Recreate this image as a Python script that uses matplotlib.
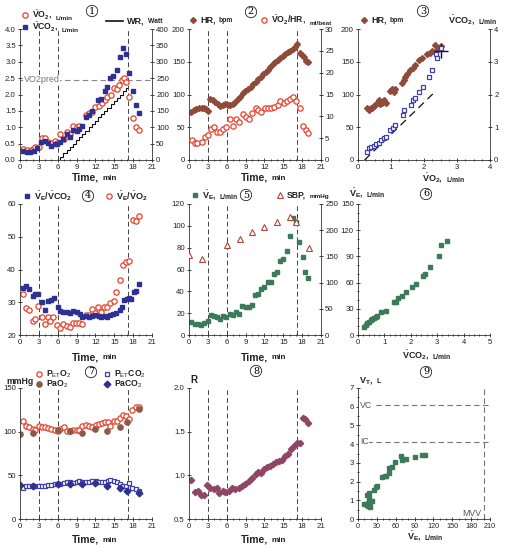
import matplotlib.pyplot as plt
from matplotlib.lines import Line2D
from matplotlib.text import Annotation
from matplotlib.ticker import MultipleLocator, FormatStrFormatter

plt.rcParams['font.family'] = ['Liberation Sans', 'DejaVu Sans']
plt.rcParams['mathtext.fontset'] = 'custom'
plt.rcParams['mathtext.rm'] = 'Liberation Sans'
plt.rcParams['mathtext.it'] = 'Liberation Sans:italic'
plt.rcParams['mathtext.bf'] = 'Liberation Sans:bold'

# ---- data ----
phase_t = [3, 6, 17.2]          # rest / unloaded / ramp / recovery boundaries

# 1: VO2, VCO2, work rate
vo2_t = [0.43, 1.06, 1.7, 2.1, 2.45, 2.98, 3.46, 3.99, 4.47, 4.9, 5.5, 5.85, 6.4, 7.0, 7.5, 7.9, 8.45, 9.0, 9.4,
         10.5, 10.95, 11.4, 11.96, 12.5, 13.0, 13.55, 13.8, 14.5, 14.9, 15.4, 15.8, 16.2, 16.5, 16.9, 17.3, 17.9, 18.4, 18.9]
vo2 = [0.34, 0.31, 0.31, 0.34, 0.41, 0.41, 0.68, 0.68, 0.56, 0.51, 0.58, 0.51, 0.78, 0.64, 0.84, 0.78, 1.05, 1.02, 1.04,
       1.37, 1.42, 1.46, 1.63, 1.65, 1.75, 1.83, 1.93, 2.0, 2.19, 2.16, 2.29, 2.44, 2.51, 2.39, 1.93, 1.28, 1.02, 0.92]
vco2_t = [0.43, 1.06, 1.6, 2.2, 2.7, 3.4, 3.93, 4.5, 4.9, 5.5, 5.85, 6.4, 6.9, 7.45, 7.97, 8.5, 9.0, 9.46, 9.9,
          10.5, 11.0, 11.4, 12.4, 12.9, 13.45, 13.8, 14.35, 14.8, 15.4, 15.85, 16.4, 16.9, 17.3, 17.97, 18.4, 18.9]
vco2 = [0.26, 0.25, 0.25, 0.28, 0.36, 0.56, 0.58, 0.51, 0.43, 0.48, 0.49, 0.56, 0.63, 0.78, 0.71, 0.92, 0.90, 0.94, 1.04,
        1.32, 1.37, 1.50, 1.83, 1.86, 2.12, 2.24, 2.51, 2.56, 2.75, 3.13, 3.41, 3.23, 2.67, 2.12, 1.67, 1.45]
wr_t = [5.9, 6.4, 6.9, 7.4, 7.9, 8.4, 8.9, 9.4, 9.9, 10.4, 10.9, 11.4, 11.9, 12.4, 12.9, 13.4, 13.9, 14.4,
        14.9, 15.4, 15.9, 16.4, 16.9, 17.1]
wr = [0, 10, 20, 30, 40, 50, 60, 70, 80, 90, 100, 110, 120, 130, 140, 150, 160, 170, 180, 190, 200, 210, 220, 220]
vo2_pred = 2.45

# 2: HR and O2 pulse
hr_t = [0.37, 0.74, 1.16, 1.6, 2.0, 2.4, 2.75, 3.1, 3.4, 3.8, 4.2, 4.6, 5.0, 5.4, 5.8, 6.2, 6.6, 7.0, 7.35, 7.8,
        8.15, 8.6, 8.95, 9.4, 9.8, 10.2, 10.6, 10.95, 11.4, 11.75, 12.2, 12.5, 12.96, 13.3, 13.76, 14.1, 14.55,
        14.9, 15.3, 15.7, 16.1, 16.5, 16.9, 17.2, 17.6, 18.0, 18.3, 18.6, 19.0]
hr = [74, 76, 78, 79, 80, 79, 78, 75, 93, 92, 89, 85.5, 83, 84.5, 85, 84, 83.5, 85, 89, 92.6, 96.7, 102, 105, 108,
      111, 116, 119.6, 123, 127, 131, 135, 138, 142.5, 146, 149.6, 152.7, 155.7, 158.8, 161.8, 164.4, 167, 169.5,
      173, 176.6, 163, 160, 156.7, 151.7, 149.6]
o2p_t = [0.42, 0.9, 1.3, 2.0, 2.5, 3.07, 3.44, 3.97, 4.5, 5.0, 5.4, 5.9, 6.5, 7.0, 7.5, 7.9, 8.6, 9.1, 9.5, 10.0,
         10.6, 11.0, 11.5, 12.06, 12.5, 13.07, 13.6, 14.1, 14.55, 15.1, 15.6, 16.0, 16.5, 17.0, 17.6, 18.1, 18.6, 19.0]
o2p = [4.6, 4.0, 4.0, 4.2, 5.3, 5.7, 7.0, 7.5, 6.5, 6.5, 7.2, 7.5, 9.5, 7.8, 9.5, 8.8, 10.5, 9.8, 9.5, 10.7,
       11.8, 11.5, 11.1, 11.8, 11.8, 11.8, 12.2, 12.6, 13.4, 13.0, 13.5, 13.9, 14.5, 13.5, 11.8, 7.9, 6.9, 6.1]

# 3: HR and VCO2 against VO2
p3_vo2_hr = [0.28, 0.33, 0.38, 0.43, 0.48, 0.53, 0.58, 0.63, 0.68, 0.73, 0.8, 0.85, 0.98, 1.03, 1.08, 1.13, 1.33,
             1.38, 1.43, 1.48, 1.58, 1.66, 1.73, 1.86, 1.93, 2.1, 2.18, 2.24, 2.34, 2.39, 2.47, 2.5]
p3_hr = [79, 76, 80, 79, 82, 84, 86.5, 91.6, 85.5, 87.5, 91.6, 87.5, 106, 109, 104, 109, 117, 122, 127, 132, 137,
         141, 145, 153, 155, 162, 164, 167, 175, 168, 170.5, 174]
p3_vo2_co2 = [0.28, 0.33, 0.4, 0.48, 0.56, 0.63, 0.7, 0.78, 0.85, 0.98, 1.05, 1.13, 1.35, 1.4, 1.6, 1.68, 1.73,
              1.86, 1.96, 2.15, 2.24, 2.36, 2.39, 2.5]
p3_vco2 = [0.25, 0.36, 0.39, 0.43, 0.49, 0.53, 0.61, 0.66, 0.71, 0.92, 0.97, 1.07, 1.37, 1.53, 1.68, 1.83, 1.88,
           2.09, 2.24, 2.52, 2.75, 3.23, 3.1, 3.41]
slope_x = [0.2, 2.3]
slope_y = [0.0, 2.05]
peak_vo2 = [2.5]
peak_hr = [166]

# 4: ventilatory equivalents
vevco2_t = [0.43, 0.96, 1.5, 2.0, 2.45, 2.9, 3.46, 3.99, 4.5, 4.9, 5.4, 6.0, 6.4, 6.9, 7.45, 7.97, 8.5, 9.0, 9.5,
            9.9, 10.5, 11.0, 11.5, 12.0, 12.5, 12.9, 13.45, 13.8, 14.35, 14.8, 15.3, 15.85, 16.3, 16.6, 17.0, 17.3,
            17.65, 18.1, 18.5, 18.9]
vevco2 = [34.5, 34.9, 33.9, 31.8, 32.4, 32.5, 30.1, 27.6, 30.4, 30.6, 31.3, 28.6, 27.3, 27.1, 27.1, 26.8, 27.4,
          27.1, 26.3, 25.6, 25.8, 25.6, 25.8, 26.1, 25.8, 25.6, 25.8, 25.6, 26.1, 26.3, 26.6, 27.6, 28.6, 30.6,
          31.1, 31.3, 31.1, 33.2, 33.5, 35.5]
veo2_t = [0.43, 0.96, 1.5, 2.0, 2.45, 2.9, 3.46, 3.9, 4.4, 4.8, 5.3, 5.85, 6.4, 6.9, 7.45, 7.9, 8.4, 8.9, 9.4, 9.9,
          10.5, 11.05, 11.4, 12.0, 12.4, 12.9, 13.4, 13.8, 14.35, 14.9, 15.3, 15.85, 16.4, 16.8, 17.4, 18.0, 18.4, 18.9]
veo2 = [32.4, 28.1, 27.6, 24.4, 24.8, 28.8, 25.6, 23.3, 25.6, 24.4, 25.4, 23.0, 22.2, 23.5, 22.8, 22.5, 23.7, 23.7,
        23.7, 23.3, 26.1, 26.1, 27.8, 26.6, 28.6, 27.1, 28.6, 28.6, 29.9, 30.4, 33.0, 36.7, 41.3, 42.3, 42.6, 55.1,
        54.7, 56.2]

# 5: ventilation and systolic pressure
ve_t = [0.37, 0.9, 1.43, 1.96, 2.4, 3.0, 3.44, 3.97, 4.44, 4.97, 5.4, 5.93, 6.45, 7.0, 7.5, 7.9, 8.47, 9.0, 9.5,
        9.95, 10.5, 11.0, 11.5, 12.0, 12.5, 13.07, 13.5, 13.97, 14.55, 15.0, 15.55, 16.1, 16.6, 17.04, 17.57, 18.1,
        18.5, 19.0]
ve = [11.9, 9.8, 9.8, 9.2, 11.3, 12.9, 18.1, 17.4, 16.5, 15.0, 17.4, 16.8, 19.0, 18.1, 21.1, 19.6, 26.6, 26.0, 26.0,
      27.9, 36.7, 38.0, 41.9, 44.4, 48.7, 49.0, 55.7, 57.9, 68.0, 69.5, 77.1, 90.9, 107, 103.2, 84.8, 71.9, 57.9, 52.6]
sbp_t = [0, 2.06, 6.03, 8.04, 10.0, 12.0, 14.0, 16.0, 17.04, 19.05]
sbp = [153, 145, 172, 184, 196, 207, 215, 226, 215, 166]

# 6: VE against VCO2
p6_vco2 = [0.23, 0.29, 0.35, 0.42, 0.48, 0.54, 0.61, 0.67, 0.73, 0.88, 1.05, 1.36, 1.43, 1.53, 1.65, 1.83, 2.06,
           2.21, 2.46, 2.53, 2.73, 3.07, 3.16, 3.38]
p6_ve = [9.5, 11.5, 13.4, 15.3, 16.8, 17.9, 19.1, 20.2, 21.8, 26, 27.9, 37.4, 38.2, 42, 44.7, 49.6, 55.3, 58, 68,
         69.8, 78.2, 90.8, 103, 108]

# 7: end-tidal and arterial gas tensions
pet_t = [0.43, 0.96, 1.5, 2.0, 2.45, 3.0, 3.46, 4.0, 4.47, 4.9, 5.5, 6.0, 6.43, 6.96, 7.44, 7.97, 8.4, 9.0, 9.46,
         9.9, 10.5, 11.0, 11.5, 12.07, 12.55, 13.0, 13.5, 13.93, 14.35, 14.9, 15.4, 15.84, 16.4, 16.8, 17.3, 17.86,
         18.4, 18.9]
peto2 = [112.6, 106.1, 105, 103, 101.5, 106, 105.3, 105, 104.2, 103.4, 102.3, 100.4, 103, 105.3, 101.1, 100.4,
         102.3, 102.3, 101.5, 106, 107.6, 106.9, 105.3, 108, 109, 110, 110.7, 110.7, 106.9, 112.6, 112.6, 115.6,
         119.5, 118.3, 114.5, 125.2, 127.9, 127.9]
petco2 = [35.5, 38.2, 37.4, 38.2, 38.2, 37.4, 37.4, 38.2, 39.3, 38.9, 40.1, 40.1, 40.1, 41.2, 42.4, 42, 41.2, 42,
          43.9, 42.4, 42, 42.4, 43.1, 43.1, 42.4, 42.4, 42, 43.1, 45, 43.1, 42.4, 40.1, 38.2, 37.4, 41.2, 35.5,
          34.4, 32.4]
art_t = [0, 2.0, 6.0, 8.0, 9.94, 12.0, 13.9, 15.95, 17.0, 18.9]
pao2 = [97.7, 98.5, 102.3, 100.4, 98.5, 103.4, 101.1, 105, 110.7, 126]
paco2 = [39.3, 38.2, 40.1, 40.5, 40.1, 41.2, 38.2, 35.5, 32.4, 29.8]

# 8: respiratory exchange ratio
r_t = [0.32, 0.96, 1.5, 1.87, 2.35, 2.83, 3.37, 3.9, 4.44, 4.8, 5.34, 5.77, 6.3, 6.84, 7.37, 7.9, 8.44, 8.98, 9.5,
       10.05, 10.58, 11.0, 11.5, 11.92, 12.45, 12.88, 13.4, 13.9, 14.32, 14.86, 15.29, 15.82, 16.25, 16.73, 17.16,
       17.64, 18.07, 18.5, 18.92]
rq = [0.95, 0.81, 0.82, 0.77, 0.77, 0.89, 0.86, 0.84, 0.85, 0.80, 0.82, 0.81, 0.82, 0.86, 0.84, 0.86, 0.88, 0.90,
      0.93, 0.975, 1.01, 1.04, 1.03, 1.07, 1.09, 1.11, 1.13, 1.15, 1.16, 1.18, 1.22, 1.25, 1.30, 1.34, 1.37, 1.37,
      1.66, 1.64, 1.60]

# 9: tidal volume against VE
p9_ve = [10, 13.7, 16.3, 19, 15.3, 19, 21.6, 17.4, 13.7, 17.4, 25.8, 28, 29.5, 37.4, 42.6, 45.3, 49.5, 49.5, 54.2,
         58.4, 67.9, 70, 76.8, 90, 102, 106.8]
p9_vt = [0.8, 0.75, 0.69, 0.62, 0.87, 0.93, 0.98, 1.1, 1.28, 1.37, 1.55, 1.69, 1.76, 2.26, 2.3, 2.32, 2.48, 2.71,
         2.76, 3.06, 3.37, 3.15, 3.21, 3.33, 3.42, 3.44]
vc, ic, mvv = 6.07, 4.13, 200

# ---- styles ----
RED, NAVY, BROWN, GREEN, MAUVE = '#E8412C', '#2E3192', '#8E4B3A', '#3D7A5A', '#8E4566'
st_o2 = dict(marker='o', ms=3.8, mfc='white', mec=RED, mew=0.9, ls='none')
st_co2 = dict(marker='s', ms=3.2, color=NAVY, ls='none')
st_hr = dict(marker='D', ms=3.0, color=BROWN, ls='none')
st_co2_open = dict(marker='s', ms=3.5, mfc='white', mec='#4040A8', mew=0.9, ls='none')
st_ve = dict(marker='s', ms=3.4, color=GREEN, ls='none')
st_sbp = dict(marker='^', ms=4.2, mfc='white', mec='#B0453A', mew=0.8, ls='none')
st_r = dict(marker='D', ms=3.2, color=MAUVE, ls='none')
st_pao2 = dict(marker='o', ms=3.8, color='#8E5A48', ls='none')
st_paco2 = dict(marker='D', ms=3.4, color=NAVY, ls='none')
DASH = (0, (5, 3))

W, H = 515, 545
fig = plt.figure(figsize=(W / 100, H / 100), dpi=100)


def fx(x):
    return x / W


def fy(y):
    return 1 - y / H


def make_ax(col, row):
    left = [20, 189, 358][col]
    top = [29, 204, 388][row]
    return fig.add_axes([fx(left), fy(top + 131), 132 / W, 131 / H])


def style(ax, right=False):
    ax.spines['top'].set_visible(False)
    if right:
        ax.spines['left'].set_visible(False)
        ax.spines['bottom'].set_visible(False)
    else:
        ax.spines['right'].set_visible(False)
    for s in ax.spines.values():
        s.set_linewidth(0.6)
        s.set_color('#333')
    ax.tick_params(labelsize=5.6, length=3, width=0.6, direction='inout', pad=1.5, colors='#222')
    ax.tick_params(which='minor', length=1.6, width=0.5, direction='inout')
    ax.patch.set_alpha(0)


def time_axis(ax):
    ax.set_xlim(0, 21)
    ax.xaxis.set_major_locator(MultipleLocator(3))
    ax.xaxis.set_minor_locator(MultipleLocator(1))
    for p in phase_t:
        ax.axvline(p, color='#444', ls=DASH, lw=0.7, zorder=0)


def key(x, y, main, units=None, size=6.5, **mk):
    if mk:
        fig.add_artist(Line2D([fx(x)], [fy(y)], transform=fig.transFigure, **mk))
        x += 7
    t = fig.text(fx(x), fy(y), main, fontsize=size, fontweight='bold', va='center', color='#222')
    if units:
        fig.add_artist(Annotation(units, xy=(1, 0), xycoords=t, xytext=(2.5, 0.5), textcoords='offset points',
                                  fontsize=size - 1.6, fontweight='bold', va='bottom', color='#222'))


def badge(x, y, n):
    fig.text(fx(x), fy(y), str(n), ha='center', va='center', fontsize=7, family='DejaVu Serif',
             bbox=dict(boxstyle='circle,pad=0.12', fc='white', ec='#222', lw=0.6))


VO2 = r'$\mathbf{\dot{V}O_2}$,'
VCO2 = r'$\mathbf{\dot{V}CO_2}$,'
VE = r'$\mathbf{\dot{V}_E}$,'

# ---- panel 1 ----
ax = make_ax(0, 0)
style(ax)
time_axis(ax)
ax.set_ylim(0, 4)
ax.yaxis.set_major_locator(MultipleLocator(0.5))
ax.yaxis.set_major_formatter(FormatStrFormatter('%.1f'))
ax.axhline(vo2_pred, color='#888', ls=DASH, lw=0.8, zorder=0)
ax.text(0.6, vo2_pred, 'VO2pred', fontsize=6.5, color='#777', va='center',
        bbox=dict(fc='white', ec='none', pad=0.3))
ax.plot(vo2_t, vo2, **st_o2)
ax.plot(vco2_t, vco2, **st_co2)
tw = ax.twinx()
style(tw, right=True)
tw.set_ylim(0, 400)
tw.yaxis.set_major_locator(MultipleLocator(50))
tw.step(wr_t, wr, where='post', color='#111', lw=0.8)
key(25, 15, VO2, 'L/min', size=6.2, **st_o2)
key(25, 27, VCO2, 'L/min', size=6.2, **st_co2)
fig.add_artist(Line2D([fx(106), fx(123)], [fy(21), fy(21)], transform=fig.transFigure, color='#111', lw=1.2))
key(127, 21, 'WR,', 'Watt')
badge(92, 11, 1)
key(72, 178, 'Time,', 'min', size=7.5)

# ---- panel 2 ----
ax = make_ax(1, 0)
style(ax)
time_axis(ax)
ax.set_ylim(0, 200)
ax.yaxis.set_major_locator(MultipleLocator(50))
ax.plot(hr_t, hr, **st_hr)
tw = ax.twinx()
style(tw, right=True)
tw.set_ylim(0, 30)
tw.yaxis.set_major_locator(MultipleLocator(5))
tw.plot(o2p_t, o2p, **st_o2)
key(193, 20, 'HR,', 'bpm', **st_hr)
key(264, 20, r'$\mathbf{\dot{V}O_2/HR}$,', 'ml/beat', size=6.2, **st_o2)
badge(251, 12, 2)
key(241, 178, 'Time,', 'min', size=7.5)

# ---- panel 3 ----
ax = make_ax(2, 0)
style(ax)
ax.set_xlim(0, 4)
ax.set_ylim(0, 200)
ax.xaxis.set_major_locator(MultipleLocator(1))
ax.xaxis.set_minor_locator(MultipleLocator(0.25))
ax.yaxis.set_major_locator(MultipleLocator(50))
ax.plot(p3_vo2_hr, p3_hr, **st_hr)
ax.plot(peak_vo2, peak_hr, marker='+', ms=10, mew=1.0, color='#111', ls='none', zorder=5)
tw = ax.twinx()
style(tw, right=True)
tw.set_ylim(0, 4)
tw.yaxis.set_major_locator(MultipleLocator(1))
tw.plot(slope_x, slope_y, color='#111', lw=0.9, ls=(0, (6, 4)))
tw.plot(p3_vo2_co2, p3_vco2, **st_co2_open)
key(364, 20, 'HR,', 'bpm', **st_hr)
key(448, 20, VCO2, 'L/min')
badge(423, 11, 3)
key(422, 178, VO2, 'L/min')

# ---- panel 4 ----
ax = make_ax(0, 1)
style(ax)
time_axis(ax)
ax.set_ylim(20, 60)
ax.yaxis.set_major_locator(MultipleLocator(10))
ax.plot(veo2_t, veo2, **st_o2)
ax.plot(vevco2_t, vevco2, **st_co2)
key(27, 196, r'$\mathbf{\dot{V}_E/\dot{V}CO_2}$', **st_co2)
key(109, 196, r'$\mathbf{\dot{V}_E/\dot{V}O_2}$', **st_o2)
badge(88, 196, 4)
key(72, 357, 'Time,', 'min', size=7.5)

# ---- panel 5 ----
ax = make_ax(1, 1)
style(ax)
time_axis(ax)
ax.set_ylim(0, 120)
ax.yaxis.set_major_locator(MultipleLocator(20))
ax.plot(ve_t, ve, **st_ve)
tw = ax.twinx()
style(tw, right=True)
tw.set_ylim(0, 250)
tw.yaxis.set_major_locator(MultipleLocator(50))
tw.plot(sbp_t, sbp, **st_sbp)
key(195, 195, VE, 'L/min', **st_ve)
key(280, 195, 'SBP,', 'mmHg', size=6.2, **st_sbp)
badge(246, 195, 5)
key(241, 357, 'Time,', 'min', size=7.5)

# ---- panel 6 ----
ax = make_ax(2, 1)
style(ax)
ax.set_xlim(0, 5)
ax.set_ylim(0, 150)
ax.xaxis.set_major_locator(MultipleLocator(1))
ax.xaxis.set_minor_locator(MultipleLocator(0.2))
ax.yaxis.set_major_locator(MultipleLocator(30))
ax.yaxis.set_minor_locator(MultipleLocator(10))
ax.plot(p6_vco2, p6_ve, **st_ve)
key(349, 193, VE, 'L/min')
badge(426, 194, 6)
key(402, 355, VCO2, 'L/min')

# ---- panel 7 ----
ax = make_ax(0, 2)
style(ax)
time_axis(ax)
ax.set_ylim(0, 150)
ax.yaxis.set_major_locator(MultipleLocator(50))
ax.plot(pet_t, peto2, **st_o2)
ax.plot(art_t, pao2, **st_pao2)
ax.plot(pet_t, petco2, **st_co2_open)
ax.plot(art_t, paco2, **st_paco2)
key(6, 381, 'mmHg', size=6.3)
key(39, 374, r'P$_{\rm ET}$O$_2$', size=6.2, **st_o2)
key(39, 384, r'PaO$_2$', size=6.2, **st_pao2)
key(107, 374, r'P$_{\rm ET}$CO$_2$', size=6.2, **st_co2_open)
key(107, 384, r'PaCO$_2$', size=6.2, **st_paco2)
badge(91, 372, 7)
key(72, 540, 'Time,', 'min', size=7.5)

# ---- panel 8 ----
ax = make_ax(1, 2)
style(ax)
time_axis(ax)
ax.set_ylim(0.5, 2.0)
ax.yaxis.set_major_locator(MultipleLocator(0.5))
ax.yaxis.set_major_formatter(FormatStrFormatter('%.1f'))
ax.plot(r_t, rq, **st_r)
key(190, 380, 'R', size=7)
badge(256, 371, 8)
key(241, 540, 'Time,', 'min', size=7.5)

# ---- panel 9 ----
ax = make_ax(2, 2)
style(ax)
ax.tick_params(axis='x', labelsize=5.2)
ax.set_xlim(0, 210)
ax.set_ylim(0, 7)
ax.xaxis.set_major_locator(MultipleLocator(30))
ax.xaxis.set_minor_locator(MultipleLocator(10))
ax.yaxis.set_major_locator(MultipleLocator(1))
ax.yaxis.set_minor_locator(MultipleLocator(0.5))
ax.axhline(vc, color='#777', ls=DASH, lw=0.8, zorder=0)
ax.axhline(ic, color='#777', ls=DASH, lw=0.8, zorder=0)
ax.axvline(mvv, color='#777', ls=DASH, lw=0.8, zorder=0)
ax.text(3, vc, 'VC', fontsize=6.3, color='#555', va='center', bbox=dict(fc='white', ec='none', pad=0.3))
ax.text(3, ic, 'IC', fontsize=6.3, color='#555', va='center', bbox=dict(fc='white', ec='none', pad=0.3))
ax.text(mvv - 3, 0.08, 'MVV', fontsize=6.3, color='#555', ha='right', va='bottom')
ax.plot(p9_ve, p9_vt, **st_ve)
key(359, 380, r'$\mathbf{V_T}$,', 'L')
badge(426, 372, 9)
key(407, 536, VE, 'L/min')

fig.savefig('out.png', dpi=100)
